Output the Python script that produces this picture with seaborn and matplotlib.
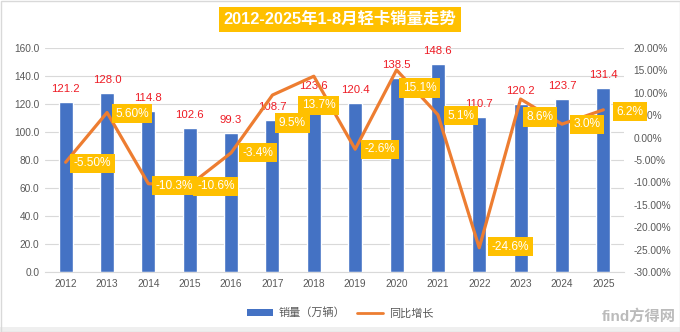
import matplotlib
matplotlib.use('Agg')
import matplotlib.pyplot as plt
import seaborn as sns
import numpy as np
import pandas as pd
from matplotlib.patches import Patch, Rectangle
from matplotlib.lines import Line2D

# ---------------- data ----------------
years = ['2012', '2013', '2014', '2015', '2016', '2017', '2018',
         '2019', '2020', '2021', '2022', '2023', '2024', '2025']
sales = [121.2, 128.0, 114.8, 102.6, 99.3, 108.7, 123.6,
         120.4, 138.5, 148.6, 110.7, 120.2, 123.7, 131.4]
growth = [-5.5, 5.6, -10.3, -10.6, -3.4, 9.5, 13.7,
          -2.6, 15.1, 5.1, -24.6, 8.6, 3.0, 6.2]
growth_labels = ['-5.50%', '5.60%', '-10.3%', '-10.6%', '-3.4%', '9.5%', '13.7%',
                 '-2.6%', '15.1%', '5.1%', '-24.6%', '8.6%', '3.0%', '6.2%']
left_ticks = [0, 20, 40, 60, 80, 100, 120, 140, 160]
right_ticks = [-30, -25, -20, -15, -10, -5, 0, 5, 10, 15, 20]
title = '2012-2025年1-8月轻卡销量走势'
legend_labels = ['销量（万辆）', '同比增长']

# label offsets (pixels) for the growth labels
growth_offsets = [(27, -1), (25, -1), (26, -2), (26, -1), (27, 0), (20, -28), (5, -29),
                  (25, 0), (23, -18), (23, -1), (31, 1), (19, -18), (25, 0), (27, -2)]

BLUE = '#4472C4'
ORANGE = '#ED7D31'
YELLOW = '#FFC000'
RED = '#EE1C25'
GRAY = '#595959'

sns.set_theme(style='white')
plt.rcParams['font.family'] = ['Liberation Sans', 'Noto Sans CJK SC', 'DejaVu Sans']

W, H = 680, 332
fig = plt.figure(figsize=(W / 100, H / 100), dpi=100)
fig.patch.set_facecolor('white')

# plot area
x0, x1, ytop, ybot = 45, 624, 48, 272
ax = fig.add_axes([x0 / W, 1 - ybot / H, (x1 - x0) / W, (ybot - ytop) / H])

df = pd.DataFrame({'year': years, 'sales': sales, 'growth': growth})
sns.barplot(data=df, x='year', y='sales', color=BLUE, width=0.34,
            saturation=1, ax=ax, zorder=2)
ax.set_ylim(0, 160)
ax.set_xlim(-0.5, len(years) - 0.5)
ax.set_yticks(left_ticks)
ax.set_yticklabels([f'{v:.1f}' for v in left_ticks])
ax.yaxis.grid(True, color='#D9D9D9', linewidth=0.8, zorder=0)
ax.set_axisbelow(True)
ax.set_xlabel('')
ax.set_ylabel('')
for s in ['top', 'left', 'right']:
    ax.spines[s].set_visible(False)
ax.spines['bottom'].set_color('#D9D9D9')
ax.spines['bottom'].set_linewidth(0.8)
ax.tick_params(axis='both', length=0, colors=GRAY, labelsize=7.3)
ax.tick_params(axis='x', pad=5)
ax.tick_params(axis='y', pad=4)

for i, v in enumerate(sales):
    ax.annotate(f'{v:.1f}', xy=(i, v), xytext=(0, 13), textcoords='offset pixels',
                ha='center', va='center', color=RED, fontsize=8.2)

ax2 = ax.twinx()
sns.lineplot(x=np.arange(len(years)), y=growth, ax=ax2, color=ORANGE,
             linewidth=2.3, zorder=3)
ax2.set_ylim(-30, 20)
ax2.set_yticks(right_ticks)
ax2.set_yticklabels([f'{v:.2f}%' for v in right_ticks])
ax2.tick_params(axis='y', length=0, colors=GRAY, labelsize=7.3, pad=7)
for s in ['top', 'left', 'right', 'bottom']:
    ax2.spines[s].set_visible(False)
ax2.set_ylabel('')
ax2.grid(False)

for i, (g, lbl) in enumerate(zip(growth, growth_labels)):
    dx, dy = growth_offsets[i]
    ax2.annotate(lbl, xy=(i, g), xytext=(dx, dy), textcoords='offset pixels',
                 ha='center', va='center', color='white', fontsize=8.6,
                 bbox=dict(boxstyle='square,pad=0.3', fc=YELLOW, ec='none'),
                 annotation_clip=False, zorder=5)

# title
fig.text(0.5, 1 - 19.5 / H, title, ha='center', va='center', color='white',
         fontsize=11.8, fontweight='bold',
         bbox=dict(boxstyle='square,pad=0.3', fc=YELLOW, ec='none'))

# legend
handles = [Patch(facecolor=BLUE, edgecolor='none'),
           Line2D([0], [0], color=ORANGE, linewidth=2)]
fig.legend(handles, legend_labels, loc='center', bbox_to_anchor=(0.5, 1 - 313 / H),
           ncol=2, frameon=False, fontsize=8, labelcolor=GRAY,
           handlelength=2.4, handleheight=0.55, columnspacing=1.0, handletextpad=0.5)

# bottom strip and border
fig.patches.append(Rectangle((0, 0), 1, 5 / H, transform=fig.transFigure,
                             facecolor='#EFEFEF', edgecolor='none', zorder=0))
fig.patches.append(Rectangle((0.5 / W, 0.5 / H), 1 - 1 / W, 1 - 1 / H,
                             transform=fig.transFigure, fill=False,
                             edgecolor='#D9D9D9', linewidth=1))
fig.text(1 - 4 / W, 8 / H, 'find方得网', ha='right', va='bottom',
         color='#BBBBBB', fontsize=11, fontweight='bold')

fig.savefig('out.png', dpi=100)
